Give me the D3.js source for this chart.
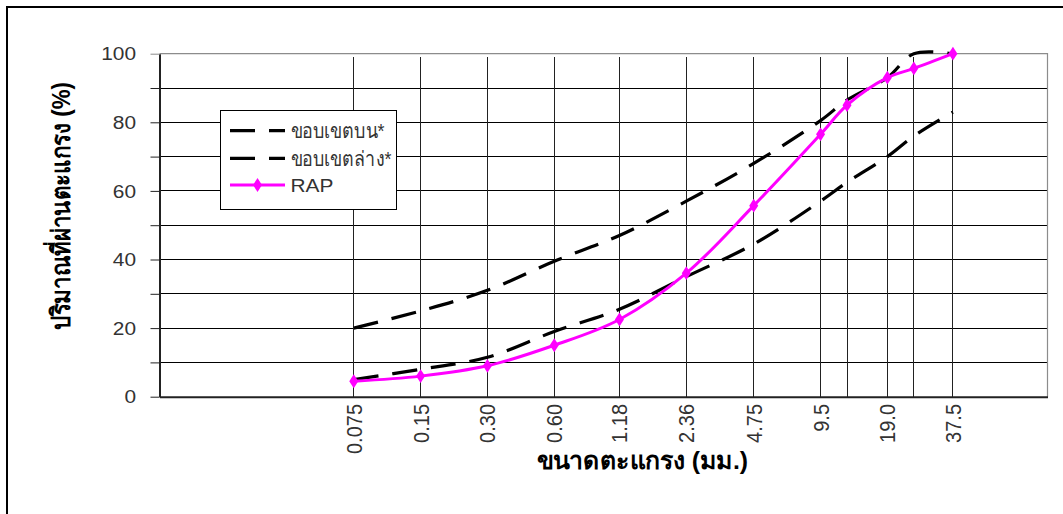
<!DOCTYPE html>
<html>
<head>
<meta charset="utf-8">
<script src="https://cdn.jsdelivr.net/npm/d3@7"></script>
<style>
  html, body { margin: 0; padding: 0; background: #fff; }
  svg { display: block; }
  text { font-family: "Liberation Sans", Arial, "DejaVu Sans", sans-serif; fill: #000; }
</style>
</head>
<body>
<svg id="chart" width="1063" height="514"></svg>
<script>
// Sieve sizes (mm) and percent passing
const sieves = [0.075, 0.15, 0.30, 0.60, 1.18, 2.36, 4.75, 9.5, 12.5, 19.0, 25.0, 37.5];
const tickSieves = [0.075, 0.15, 0.30, 0.60, 1.18, 2.36, 4.75, 9.5, 19.0, 37.5];
const tickLabels = ["0.075", "0.15", "0.30", "0.60", "1.18", "2.36", "4.75", "9.5", "19.0", "37.5"];
const upperLimit = [20, 25, 31, 39.5, 47, 57, 68, 80.5, 86.5, 93, 100, 100];
const lowerLimit = [5, 8, 11.5, 19, 25.5, 35, 44.5, 57, 62.5, 70, 76, 83];
const rapValues = [4.5, 6, 9, 15, 22.5, 36, 55.7, 76.5, 85, 93, 95.7, 100];
const yTicks = [0, 10, 20, 30, 40, 50, 60, 70, 80, 90, 100];
const seriesNames = ["ขอบเขตบน*", "ขอบเขตล่าง*", "RAP"];
const xTitle = "ขนาดตะแกรง (มม.)";
const yTitle = "ปริมาณที่ผ่านตะแกรง (%)";

const SX = 1.13; // horizontal text stretch
const svg = d3.select("#chart");

const plot = { left: 159.5, right: 1047.5, top: 53.7, bottom: 396.7 };
const x = d3.scaleLog().domain([0.01, 100]).range([plot.left, plot.right]);
const y = d3.scaleLinear().domain([0, 100]).range([plot.bottom, plot.top]);

// outer frame
svg.append("rect").attr("x", 7).attr("y", 7).attr("width", 1080).attr("height", 530)
  .attr("fill", "none").attr("stroke", "#000").attr("stroke-width", 2);

// horizontal grid lines
svg.append("g").selectAll("line").data(yTicks.filter(v => v > 0 && v < 100)).join("line")
  .attr("x1", plot.left).attr("x2", plot.right)
  .attr("y1", d => y(d)).attr("y2", d => y(d))
  .attr("stroke", "#000").attr("stroke-width", 1).attr("shape-rendering", "crispEdges");

// plot area top / right border
svg.append("path")
  .attr("d", `M${plot.left},${y(100)}H${plot.right}V${plot.bottom}`)
  .attr("fill", "none").attr("stroke", "#8c8c8c").attr("stroke-width", 1.2);

// vertical grid lines at each sieve
svg.append("g").selectAll("line").data(sieves).join("line")
  .attr("x1", d => x(d)).attr("x2", d => x(d))
  .attr("y1", y(99)).attr("y2", y(0))
  .attr("stroke", "#222").attr("stroke-width", 1).attr("shape-rendering", "crispEdges");

// y axis with ticks every 10
const yAxis = svg.append("g").attr("transform", `translate(${plot.left},0)`)
  .call(d3.axisLeft(y).tickValues(yTicks).tickSizeInner(9).tickSizeOuter(0).tickFormat(""));
yAxis.select(".domain").attr("stroke", "#222").attr("stroke-width", 2);
yAxis.selectAll(".tick line").attr("stroke", "#222").attr("stroke-width", 1);
yAxis.selectAll(".tick").filter(d => d === 100).select("line").attr("stroke", "#8c8c8c");

// y tick labels
svg.append("g").selectAll("text").data(yTicks.filter(v => v % 20 === 0)).join("text")
  .attr("transform", d => `translate(136,${y(d)}) scale(${SX},1)`)
  .attr("text-anchor", "end").attr("dy", "0.36em")
  .style("font-size", "18.5px").style("fill", "#333")
  .text(d => d);

// x axis
const xAxis = svg.append("g").attr("transform", `translate(0,${plot.bottom})`)
  .call(d3.axisBottom(x).tickValues([]).tickSizeOuter(0));
xAxis.select(".domain").attr("stroke", "#222").attr("stroke-width", 2);

// x tick labels (rotated)
svg.append("g").selectAll("text").data(tickSieves).join("text")
  .attr("transform", d => `translate(${x(d) + 8},404) scale(${SX},1) rotate(-90)`)
  .attr("text-anchor", "end")
  .style("font-size", "20px").style("fill", "#333")
  .text((d, i) => tickLabels[i]);

// axis titles
svg.append("text")
  .attr("transform", `translate(536.5,469) scale(${SX},1)`)
  .attr("textLength", 211.6 / SX).attr("lengthAdjust", "spacingAndGlyphs")
  .style("font-size", "24px").style("font-weight", "bold")
  .text(xTitle);

svg.append("text")
  .attr("transform", `translate(70,330) scale(${SX},1) rotate(-90)`)
  .attr("textLength", 248).attr("lengthAdjust", "spacingAndGlyphs")
  .style("font-size", "23px").style("font-weight", "bold")
  .text(yTitle);

// series
const line = d3.line()
  .x(d => x(d[0])).y(d => y(d[1]))
  .curve(d3.curveCatmullRom.alpha(0.5));

const dash = "25,14";
const upperPts = sieves.map((s, i) => [s, upperLimit[i]]);
const lowerPts = sieves.map((s, i) => [s, lowerLimit[i]]);
const rapPts = sieves.map((s, i) => [s, rapValues[i]]);

svg.append("path").datum(upperPts).attr("d", line)
  .attr("fill", "none").attr("stroke", "#000").attr("stroke-width", 3.2).attr("stroke-dasharray", dash);
svg.append("path").datum(lowerPts).attr("d", line)
  .attr("fill", "none").attr("stroke", "#000").attr("stroke-width", 3.2).attr("stroke-dasharray", dash);
svg.append("path").datum(rapPts).attr("d", line)
  .attr("fill", "none").attr("stroke", "#ff00ff").attr("stroke-width", 3);

const diamond = d3.symbol().type(d3.symbolDiamond).size(55);
svg.append("g").selectAll("path").data(rapPts).join("path")
  .attr("transform", d => `translate(${x(d[0])},${y(d[1])}) scale(${SX},1)`)
  .attr("d", diamond).attr("fill", "#ff00ff");

// legend
const lg = svg.append("g");
lg.append("rect").attr("x", 220.5).attr("y", 110.5).attr("width", 176).attr("height", 99)
  .attr("fill", "#fff").attr("stroke", "#000").attr("stroke-width", 1);
const rows = [130.7, 158.3, 185];
const styles = [
  { stroke: "#000", dash: dash, marker: false, len: 94, size: 21 },
  { stroke: "#000", dash: dash, marker: false, len: 101, size: 21 },
  { stroke: "#ff00ff", dash: null, marker: true, len: null, size: 18.5 }
];
seriesNames.forEach((name, i) => {
  lg.append("line").attr("x1", 230).attr("x2", 285).attr("y1", rows[i]).attr("y2", rows[i])
    .attr("stroke", styles[i].stroke).attr("stroke-width", 3.2)
    .attr("stroke-dasharray", styles[i].dash);
  if (styles[i].marker) {
    lg.append("path").attr("transform", `translate(257.5,${rows[i]}) scale(${SX},1)`)
      .attr("d", diamond).attr("fill", "#ff00ff");
  }
  const t = lg.append("text").attr("transform", `translate(290.5,${rows[i]}) scale(${SX},1)`)
    .attr("dy", "0.36em").style("font-size", styles[i].size + "px").style("fill", "#333")
    .text(name);
  if (styles[i].len) t.attr("textLength", styles[i].len / SX).attr("lengthAdjust", "spacingAndGlyphs");
});
</script>
</body>
</html>
